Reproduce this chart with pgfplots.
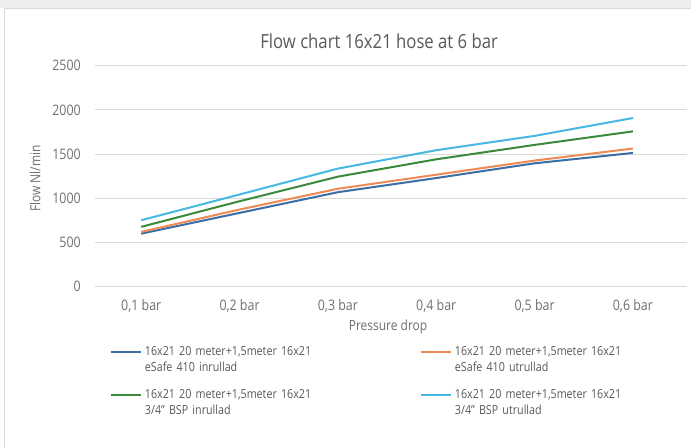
\documentclass[border=0pt]{standalone}
\usepackage{fontspec}
\setmainfont[FakeStretch=0.86]{Open Sans}
\usepackage{pgfplots}
\pgfplotsset{compat=1.18}
\definecolor{sblue}{HTML}{3A6EA5}
\definecolor{sorange}{HTML}{EE8B55}
\definecolor{sgreen}{HTML}{3B8A3B}
\definecolor{scyan}{HTML}{47B7E3}
\definecolor{txt}{HTML}{595959}
\definecolor{txtl}{HTML}{707070}
\definecolor{gridc}{HTML}{D9D9D9}
\begin{document}
\begin{tikzpicture}
\useasboundingbox (0,0) rectangle (691bp,448bp);
\fill[white] (0,0) rectangle (691bp,448bp);
\fill[black!7] (0,440bp) rectangle (691bp,448bp);
\draw[gridc, line width=1bp] (4.5bp,-20bp) -- (4.5bp,439bp) -- (720bp,439bp);
\begin{axis}[
  at={(95bp,161.3bp)}, anchor=south west,
  width=592bp, height=221bp, scale only axis,
  xmin=-0.47, xmax=5.55, ymin=0, ymax=2500,
  xtick={0,1,2,3,4,5},
  xticklabels={{0,1 bar},{0,2 bar},{0,3 bar},{0,4 bar},{0,5 bar},{0,6 bar}},
  ytick={0,500,1000,1500,2000,2500},
  /pgf/number format/assume math mode=true,
  /pgf/number format/set thousands separator={},
  ymajorgrids, grid style={gridc, line width=1bp},
  axis line style={draw=none},
  major tick length=0pt,
  tick label style={font=\fontsize{14.5}{16}\selectfont, text=txtl},
  yticklabel style={anchor=east, inner sep=0pt, xshift=-14bp},
  xticklabel style={anchor=north, inner sep=0pt, yshift=-13bp},
  title={Flow chart 16x21 hose at 6 bar},
  title style={at={(axis description cs:0.48,1.053)}, anchor=base, font=\fontsize{19.5}{22}\selectfont, text=txt},
  xlabel={Pressure drop},
  xlabel style={at={(axis description cs:0.495,-0.182)}, anchor=center, font=\fontsize{14}{16}\selectfont, text=txtl},
  ylabel={Flow Nl/min},
  ylabel style={at={(axis description cs:-0.101,0.49)}, anchor=center, font=\fontsize{14}{16}\selectfont, text=txtl},
  legend columns=2,
  legend cell align=left,
  legend image code/.code={\draw[#1] (0bp,3.5bp) -- (30bp,3.5bp);},
  legend style={
    at={(axis description cs:0.0253,-0.27)}, anchor=north west,
    draw=none, fill=none, inner sep=0pt, outer sep=0pt,
    font=\fontsize{12.5}{16}\selectfont, text=txt,
    row sep=33bp,
    nodes={inner sep=0pt, text width=265bp, align=left, anchor=base west},
    /tikz/every even column/.append style={column sep=10bp},
    /tikz/every odd column/.append style={column sep=3bp},
  },
  every axis plot/.append style={line width=2bp},
]
\addplot[sblue] coordinates {(0,600) (1,835) (2,1069) (3,1229) (4,1396) (5,1513)};
\addlegendentry{16x21 20 meter+1,5meter 16x21\\eSafe 410 inrullad}
\addplot[sorange] coordinates {(0,620) (1,873) (2,1108) (3,1267) (4,1427) (5,1563)};
\addlegendentry{16x21 20 meter+1,5meter 16x21\\eSafe 410 utrullad}
\addplot[sgreen] coordinates {(0,677) (1,967) (2,1245) (3,1441) (4,1604) (5,1757)};
\addlegendentry{16x21 20 meter+1,5meter 16x21\\3/4" BSP inrullad}
\addplot[scyan] coordinates {(0,752) (1,1043) (2,1336) (3,1544) (4,1706) (5,1908)};
\addlegendentry{16x21 20 meter+1,5meter 16x21\\3/4" BSP utrullad}
\end{axis}
\end{tikzpicture}
\end{document}
